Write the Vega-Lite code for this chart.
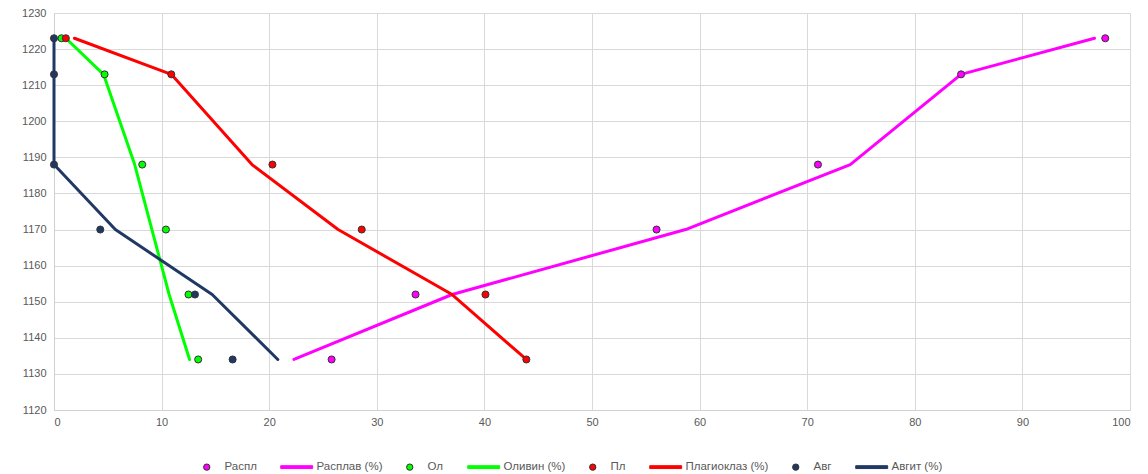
{
  "$schema": "https://vega.github.io/schema/vega-lite/v6.json",
  "width": 1076,
  "height": 397,
  "autosize": {"type": "none"},
  "padding": {"left": 54, "top": 13, "right": 18, "bottom": 64},
  "background": "white",
  "config": {
    "font": "Liberation Sans",
    "view": {"stroke": null},
    "axis": {"labelColor": "#595959", "labelFontSize": 11, "gridColor": "#d9d9d9", "domainColor": "#d0d0d0", "ticks": false, "title": null}
  },
  "data": {"values": [
    {"series": "Распл", "kind": "point", "x": 25.8, "t": 1134},
    {"series": "Распл", "kind": "point", "x": 33.6, "t": 1152},
    {"series": "Распл", "kind": "point", "x": 56.0, "t": 1170},
    {"series": "Распл", "kind": "point", "x": 71.0, "t": 1188},
    {"series": "Распл", "kind": "point", "x": 84.3, "t": 1213},
    {"series": "Распл", "kind": "point", "x": 97.7, "t": 1223},
    {"series": "Ол", "kind": "point", "x": 0.7, "t": 1223},
    {"series": "Ол", "kind": "point", "x": 4.7, "t": 1213},
    {"series": "Ол", "kind": "point", "x": 8.2, "t": 1188},
    {"series": "Ол", "kind": "point", "x": 10.4, "t": 1170},
    {"series": "Ол", "kind": "point", "x": 12.5, "t": 1152},
    {"series": "Ол", "kind": "point", "x": 13.4, "t": 1134},
    {"series": "Пл", "kind": "point", "x": 1.1, "t": 1223},
    {"series": "Пл", "kind": "point", "x": 10.9, "t": 1213},
    {"series": "Пл", "kind": "point", "x": 20.3, "t": 1188},
    {"series": "Пл", "kind": "point", "x": 28.6, "t": 1170},
    {"series": "Пл", "kind": "point", "x": 40.1, "t": 1152},
    {"series": "Пл", "kind": "point", "x": 43.9, "t": 1134},
    {"series": "Авг", "kind": "point", "x": 0, "t": 1223},
    {"series": "Авг", "kind": "point", "x": 0, "t": 1213},
    {"series": "Авг", "kind": "point", "x": 0, "t": 1188},
    {"series": "Авг", "kind": "point", "x": 4.3, "t": 1170},
    {"series": "Авг", "kind": "point", "x": 13.1, "t": 1152},
    {"series": "Авг", "kind": "point", "x": 16.6, "t": 1134},
    {"series": "Расплав (%)", "kind": "line", "x": 22.3, "t": 1134},
    {"series": "Расплав (%)", "kind": "line", "x": 37.0, "t": 1152},
    {"series": "Расплав (%)", "kind": "line", "x": 58.7, "t": 1170},
    {"series": "Расплав (%)", "kind": "line", "x": 74.0, "t": 1188},
    {"series": "Расплав (%)", "kind": "line", "x": 84.3, "t": 1213},
    {"series": "Расплав (%)", "kind": "line", "x": 96.7, "t": 1223},
    {"series": "Оливин (%)", "kind": "line", "x": 12.6, "t": 1134},
    {"series": "Оливин (%)", "kind": "line", "x": 10.7, "t": 1152},
    {"series": "Оливин (%)", "kind": "line", "x": 9.1, "t": 1170},
    {"series": "Оливин (%)", "kind": "line", "x": 7.5, "t": 1188},
    {"series": "Оливин (%)", "kind": "line", "x": 4.6, "t": 1213},
    {"series": "Оливин (%)", "kind": "line", "x": 1.1, "t": 1223},
    {"series": "Плагиоклаз (%)", "kind": "line", "x": 43.9, "t": 1134},
    {"series": "Плагиоклаз (%)", "kind": "line", "x": 37.0, "t": 1152},
    {"series": "Плагиоклаз (%)", "kind": "line", "x": 26.4, "t": 1170},
    {"series": "Плагиоклаз (%)", "kind": "line", "x": 18.4, "t": 1188},
    {"series": "Плагиоклаз (%)", "kind": "line", "x": 10.9, "t": 1213},
    {"series": "Плагиоклаз (%)", "kind": "line", "x": 1.9, "t": 1223},
    {"series": "Авгит (%)", "kind": "line", "x": 20.8, "t": 1134},
    {"series": "Авгит (%)", "kind": "line", "x": 14.7, "t": 1152},
    {"series": "Авгит (%)", "kind": "line", "x": 5.7, "t": 1170},
    {"series": "Авгит (%)", "kind": "line", "x": 0, "t": 1188},
    {"series": "Авгит (%)", "kind": "line", "x": 0, "t": 1213},
    {"series": "Авгит (%)", "kind": "line", "x": 0, "t": 1223}
  ]},
  "encoding": {
    "x": {"field": "x", "type": "quantitative", "scale": {"domain": [0, 100], "nice": false}, "axis": {"values": [0,10,20,30,40,50,60,70,80,90,100], "labelPadding": 6}},
    "y": {"field": "t", "type": "quantitative", "scale": {"domain": [1120, 1230], "nice": false, "zero": false}, "axis": {"values": [1120,1130,1140,1150,1160,1170,1180,1190,1200,1210,1220,1230], "format": "d", "labelPadding": 8}}
  },
  "layer": [
    {
      "transform": [{"filter": "datum.kind == 'line'"}],
      "mark": {"type": "line", "strokeWidth": 3, "strokeCap": "round", "strokeJoin": "round"},
      "encoding": {
        "stroke": {"field": "series", "type": "nominal"},
        "order": {"field": "t", "type": "quantitative"}
      }
    },
    {
      "transform": [{"filter": "datum.kind == 'point'"}],
      "mark": {"type": "point", "filled": true, "size": 50, "strokeWidth": 1, "opacity": 1},
      "encoding": {
        "fill": {"field": "series", "type": "nominal",
          "scale": {"domain": ["Распл", "Расплав (%)", "Ол", "Оливин (%)", "Пл", "Плагиоклаз (%)", "Авг", "Авгит (%)"],
                    "range": ["#FF00FF", "#FF00FF", "#00FF00", "#00FF00", "#FF0000", "#FF0000", "#203864", "#203864"]},
          "legend": {"orient": "none", "legendX": 147, "legendY": 448, "direction": "horizontal", "title": null, "columns": 8, "symbolSize": 40, "labelFontSize": 11.5, "labelColor": "#595959", "labelOffset": 12, "columnPadding": 21, "symbolStrokeWidth": 1}},
        "stroke": {"field": "series", "type": "nominal",
          "scale": {"domain": ["Распл", "Расплав (%)", "Ол", "Оливин (%)", "Пл", "Плагиоклаз (%)", "Авг", "Авгит (%)"],
                    "range": ["#333333", "#FF00FF", "#333333", "#00FF00", "#333333", "#FF0000", "#333333", "#203864"]}},
        "shape": {"field": "series", "type": "nominal",
          "scale": {"domain": ["Распл", "Расплав (%)", "Ол", "Оливин (%)", "Пл", "Плагиоклаз (%)", "Авг", "Авгит (%)"],
                    "range": ["circle", "M-5.7,-0.45H4.4V0.45H-5.7Z", "circle", "M-5.7,-0.45H4.4V0.45H-5.7Z", "circle", "M-5.7,-0.45H4.4V0.45H-5.7Z", "circle", "M-5.7,-0.45H4.4V0.45H-5.7Z"]}}
      }
    }
  ]
}
